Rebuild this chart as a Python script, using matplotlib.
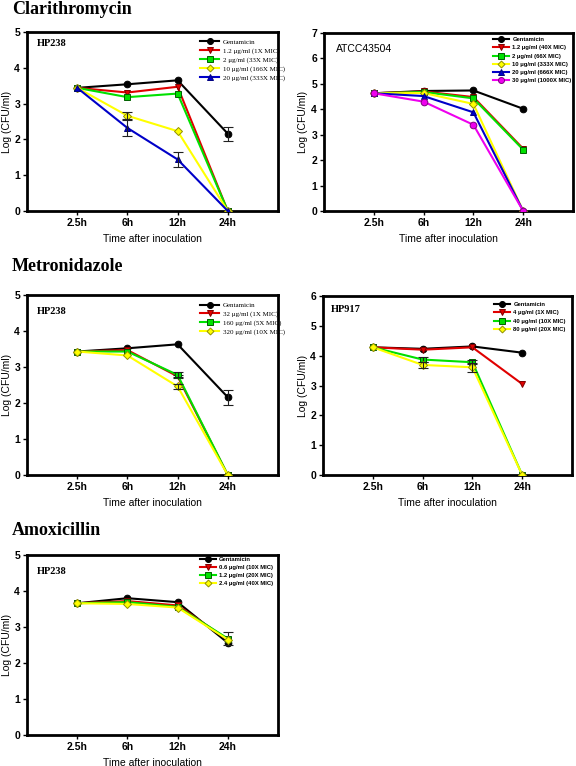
import matplotlib
matplotlib.use("Agg")
import matplotlib.pyplot as plt
import numpy as np

times = ["2.5h", "6h", "12h", "24h"]

# ---- Clarithromycin, HP238
clar_hp238_labels = ["Gentamicin", "1.2 \u03bcg/ml (1X MIC)", "2 \u03bcg/ml (33X MIC)",
                     "10 \u03bcg/ml (166X MIC)", "20 \u03bcg/ml (333X MIC)"]
clar_hp238_values = [[3.44, 3.54, 3.65, 2.16],
                     [3.44, 3.31, 3.47, 0.0],
                     [3.44, 3.18, 3.28, 0.0],
                     [3.44, 2.66, 2.23, 0.0],
                     [3.44, 2.32, 1.44, 0.0]]
clar_hp238_errors = [[0, 0, 0, 0.20],
                     [0, 0, 0, 0],
                     [0, 0, 0, 0],
                     [0, 0.10, 0, 0],
                     [0, 0.23, 0.21, 0]]

# ---- Clarithromycin, ATCC43504
clar_atcc_labels = ["Gentamicin", "1.2 \u03bcg/ml (40X MIC)", "2 \u03bcg/ml (66X MIC)",
                    "10 \u03bcg/ml (333X MIC)", "20 \u03bcg/ml (666X MIC)", "30 \u03bcg/ml (1000X MIC)"]
clar_atcc_values = [[4.63, 4.72, 4.74, 4.02],
                    [4.63, 4.70, 4.48, 2.45],
                    [4.63, 4.68, 4.43, 2.41],
                    [4.63, 4.64, 4.21, 0.0],
                    [4.63, 4.52, 3.88, 0.0],
                    [4.63, 4.30, 3.39, 0.0]]
clar_atcc_errors = [[0, 0, 0, 0]] * 6

# ---- Metronidazole, HP238
metro_hp238_labels = ["Gentamicin", "32 \u03bcg/ml (1X MIC)", "160 \u03bcg/ml (5X MIC)",
                      "320 \u03bcg/ml (10X MIC)"]
metro_hp238_values = [[3.43, 3.52, 3.63, 2.16],
                      [3.43, 3.47, 2.74, 0.0],
                      [3.43, 3.43, 2.78, 0.0],
                      [3.43, 3.32, 2.46, 0.0]]
metro_hp238_errors = [[0, 0, 0, 0.21],
                      [0, 0, 0.05, 0],
                      [0, 0, 0.07, 0],
                      [0, 0, 0.07, 0]]

# ---- Metronidazole, HP917
metro_hp917_labels = ["Gentamicin", "4 \u03bcg/ml (1X MIC)", "40 \u03bcg/ml (10X MIC)",
                      "80 \u03bcg/ml (20X MIC)"]
metro_hp917_values = [[4.28, 4.23, 4.31, 4.10],
                      [4.28, 4.20, 4.28, 3.05],
                      [4.28, 3.87, 3.78, 0.0],
                      [4.28, 3.69, 3.61, 0.0]]
metro_hp917_errors = [[0, 0, 0, 0],
                      [0, 0, 0, 0],
                      [0, 0.07, 0.06, 0],
                      [0, 0.10, 0.15, 0]]

# ---- Amoxicillin, HP238
amox_hp238_labels = ["Gentamicin", "0.6 \u03bcg/ml (10X MIC)", "1.2 \u03bcg/ml (20X MIC)",
                     "2.4 \u03bcg/ml (40X MIC)"]
amox_hp238_values = [[3.66, 3.80, 3.69, 2.56],
                     [3.66, 3.72, 3.60, 2.65],
                     [3.66, 3.69, 3.56, 2.68],
                     [3.66, 3.64, 3.54, 2.65]]
amox_hp238_errors = [[0, 0, 0, 0],
                     [0, 0, 0, 0],
                     [0, 0, 0, 0.17],
                     [0, 0, 0, 0]]

# styles: (line color, marker, face color, edge color)
styles = [("#000000", "o", "#000000", "#000000"),
          ("#e00000", "v", "#e00000", "#800000"),
          ("#00e000", "s", "#00e000", "#006000"),
          ("#ffff00", "D", "#ffff00", "#909000"),
          ("#0000c8", "^", "#0000c8", "#000080"),
          ("#ee00ee", "o", "#ee00ee", "#800080")]

W, H = 576, 766
fig = plt.figure(figsize=(W / 100, H / 100), dpi=100)


def add_ax(l, r, t, b):
    return fig.add_axes([l / W, 1 - b / H, (r - l) / W, (b - t) / H])


SANS = "Liberation Sans"
SERIF = "Liberation Serif"


def panel(ax, labels, values, errors, ymax, strain, strain_font, leg_font, leg_xy):
    x = np.arange(1, len(times) + 1)
    for i, (lab, vals, errs) in enumerate(zip(labels, values, errors)):
        c, m, fc, ec = styles[i]
        ms = 3.9 if m == "D" else 4.8
        ax.plot(x, vals, color=c, lw=1.5, marker=m, markersize=ms,
                markerfacecolor=fc, markeredgecolor=ec, markeredgewidth=0.7,
                label=lab, zorder=2 + i)
        errs = np.asarray(errs, dtype=float)
        sel = errs > 0
        if sel.any():
            ax.errorbar(x[sel], np.asarray(vals)[sel], yerr=errs[sel], fmt="none",
                        ecolor="#202020", elinewidth=0.8, capsize=3.5, capthick=0.8,
                        zorder=2 + i)
    ax.set_xlim(0, len(times) + 1)
    ax.set_ylim(0, ymax)
    ax.set_xticks(x)
    ax.set_xticklabels(times)
    ax.set_yticks(np.arange(0, ymax + 1, 1))
    for s in ax.spines.values():
        s.set_linewidth(2.0)
    ax.tick_params(axis="both", direction="out", length=3, width=1.0, pad=2,
                   labelsize=7.5)
    for t in ax.get_xticklabels() + ax.get_yticklabels():
        t.set_fontfamily(SANS)
        t.set_fontweight("bold")
    ax.set_xlabel("Time after inoculation", fontsize=7.5, fontfamily=SANS, labelpad=4)
    ax.set_ylabel("Log (CFU/ml)", fontsize=7.5, fontfamily=SANS, labelpad=2)
    if strain_font == "serif":
        ax.text(strain[1], strain[2], strain[0], transform=ax.transAxes, fontsize=7.5,
                fontfamily=SERIF, fontweight="bold", va="center", ha="left")
    else:
        ax.text(strain[1], strain[2], strain[0], transform=ax.transAxes, fontsize=7.5,
                fontfamily=SANS, va="center", ha="left")
    if leg_font == "serif":
        prop = {"family": SERIF, "size": 5}
        spacing = 0.4
    else:
        prop = {"family": SANS, "size": 4.2, "weight": "bold"}
        spacing = 0.52
    ax.legend(loc="upper left", bbox_to_anchor=leg_xy, frameon=False, prop=prop,
              handlelength=2.8, handletextpad=0.5, labelspacing=spacing,
              borderpad=0, borderaxespad=0, markerscale=0.9)


ax1 = add_ax(27, 278, 32, 211)
panel(ax1, clar_hp238_labels, clar_hp238_values, clar_hp238_errors, 5,
      ("HP238", 0.04, 0.933), "serif", "serif", (0.689, 0.962))

ax2 = add_ax(324, 573, 33, 211)
panel(ax2, clar_atcc_labels, clar_atcc_values, clar_atcc_errors, 7,
      ("ATCC43504", 0.048, 0.91), "sans", "sans", (0.679, 0.976))

ax3 = add_ax(27, 278, 295, 475)
panel(ax3, metro_hp238_labels, metro_hp238_values, metro_hp238_errors, 5,
      ("HP238", 0.04, 0.911), "serif", "serif", (0.689, 0.96))

ax4 = add_ax(323, 572, 296, 475)
panel(ax4, metro_hp917_labels, metro_hp917_values, metro_hp917_errors, 6,
      ("HP917", 0.032, 0.922), "serif", "sans", (0.687, 0.965))

ax5 = add_ax(27, 278, 555, 735)
panel(ax5, amox_hp238_labels, amox_hp238_values, amox_hp238_errors, 5,
      ("HP238", 0.04, 0.911), "serif", "sans", (0.689, 0.99))

for txt, base in [("Clarithromycin", 14), ("Metronidazole", 271), ("Amoxicillin", 535)]:
    fig.text(12 / W, 1 - base / H, txt, fontsize=13, fontfamily=SERIF,
             fontweight="bold", va="baseline", ha="left")

fig.savefig("out.png", dpi=100, facecolor="white")
